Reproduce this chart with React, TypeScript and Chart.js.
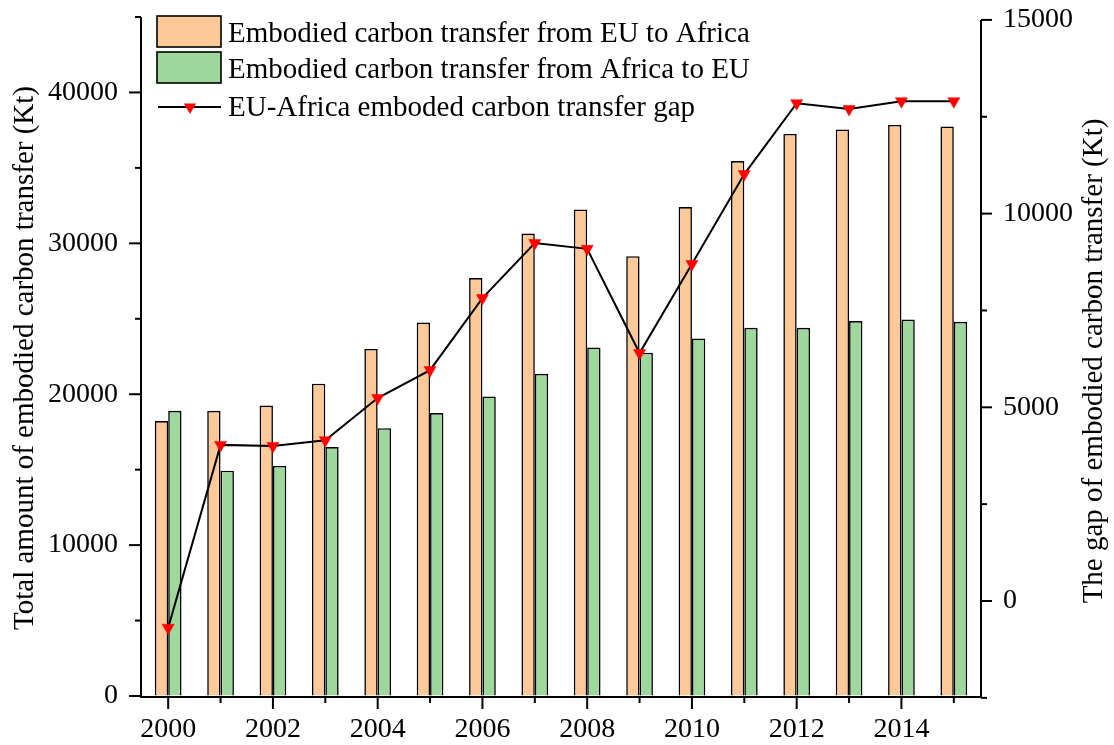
import React, { useEffect, useRef } from "react";
import { Chart, registerables } from "chart.js";

Chart.register(...registerables);

const years = ["2000", "2001", "2002", "2003", "2004", "2005", "2006", "2007", "2008", "2009", "2010", "2011", "2012", "2013", "2014", "2015"];
const euToAfrica = [18220, 18900, 19250, 20700, 23000, 24750, 27700, 30650, 32250, 29150, 32400, 35450, 37250, 37550, 37850, 37750];
const africaToEu = [18900, 14930, 15250, 16500, 17750, 18750, 19850, 21350, 23100, 22750, 23700, 24400, 24400, 24850, 24950, 24800];
const gap = [-690, 4030, 4000, 4150, 5240, 5960, 7820, 9240, 9090, 6400, 8700, 11020, 12850, 12700, 12900, 12900];

const leftMajor = [0, 10000, 20000, 30000, 40000];
const leftMinor = [5000, 15000, 25000, 35000, 45000];
const rightMajor = [0, 5000, 10000, 15000];
const rightMinor = [-2500, 2500, 7500, 12500];

const seriesNames = [
  "Embodied carbon transfer from EU to Africa",
  "Embodied carbon transfer from Africa to EU",
  "EU-Africa emboded carbon transfer gap",
];
const leftTitle = "Total amount of embodied carbon transfer (Kt)";
const rightTitle = "The gap of embodied carbon transfer (Kt)";

const ORANGE = "#FDC998";
const GREEN = "#9ED89D";
const FONT = "'Liberation Serif', 'Times New Roman', serif";
const FS = 28;
const FT = 29;

const decorPlugin = {
  id: "decor",
  afterDraw(chart: any) {
    const ctx = chart.ctx;
    const { left, right, bottom } = chart.chartArea;
    const y = chart.scales.y;
    const y1 = chart.scales.y1;
    const x = chart.scales.x;
    ctx.save();
    ctx.strokeStyle = "#000";
    ctx.lineWidth = 2;
    ctx.lineCap = "butt";
    const seg = (x1: number, yA: number, x2: number, yB: number) => {
      ctx.beginPath();
      ctx.moveTo(x1, yA);
      ctx.lineTo(x2, yB);
      ctx.stroke();
    };
    // axis lines
    const lx = left - 1;
    const rx = right + 1;
    const by = bottom + 1;
    seg(lx, y.getPixelForValue(45000), lx, by + 1);
    seg(rx, y1.getPixelForValue(15000), rx, by + 1);
    seg(lx - 1, by, rx + 1, by);
    // left ticks
    leftMajor.forEach((v) => { const p = y.getPixelForValue(v); seg(lx - 12, p, lx, p); });
    leftMinor.forEach((v) => { const p = y.getPixelForValue(v); seg(lx - 6, p, lx, p); });
    // right ticks
    rightMajor.forEach((v) => { const p = y1.getPixelForValue(v); seg(rx, p, rx + 11, p); });
    rightMinor.forEach((v) => { const p = y1.getPixelForValue(v); seg(rx, p, rx + 6, p); });
    // bottom ticks
    years.forEach((_, i) => {
      const p = x.getPixelForValue(i);
      seg(p, by, p, by + (i % 2 === 0 ? 12 : 6));
    });

    // titles
    ctx.fillStyle = "#000";
    ctx.font = `${FT}px ${FONT}`;
    ctx.textAlign = "center";
    ctx.textBaseline = "middle";
    ctx.save();
    ctx.translate(25, 358);
    ctx.rotate(-Math.PI / 2);
    ctx.fillText(leftTitle, 0, 0);
    ctx.restore();
    ctx.save();
    ctx.translate(1094, 361);
    ctx.rotate(-Math.PI / 2);
    ctx.fillText(rightTitle, 0, 0);
    ctx.restore();

    // legend
    const bx = 157, bw = 64, bh = 31;
    ctx.lineWidth = 1.6;
    ctx.fillStyle = ORANGE;
    ctx.fillRect(bx, 16, bw, bh);
    ctx.strokeRect(bx, 16, bw, bh);
    ctx.fillStyle = GREEN;
    ctx.fillRect(bx, 52, bw, bh);
    ctx.strokeRect(bx, 52, bw, bh);
    ctx.lineWidth = 2;
    seg(bx + 1, 107, bx + bw, 107);
    ctx.fillStyle = "#FF0000";
    const cx = bx + 33, cy = 107, r = 7;
    ctx.beginPath();
    ctx.moveTo(cx, cy + r);
    ctx.lineTo(cx - r * 0.866, cy - r / 2);
    ctx.lineTo(cx + r * 0.866, cy - r / 2);
    ctx.closePath();
    ctx.fill();
    ctx.fillStyle = "#000";
    ctx.font = `${FT}px ${FONT}`;
    ctx.textAlign = "left";
    ctx.textBaseline = "middle";
    ctx.fillText(seriesNames[0], 228, 34);
    ctx.fillText(seriesNames[1], 228, 70);
    ctx.fillText(seriesNames[2], 228, 108);
    ctx.restore();
  },
};

const plain = (v: any) => String(v);

export default function App() {
  const ref = useRef<HTMLCanvasElement>(null);
  useEffect(() => {
    if (!ref.current) return;
    const chart = new Chart(ref.current, {
      type: "bar",
      data: {
        labels: years,
        datasets: [
          {
            type: "line",
            label: seriesNames[2],
            data: gap,
            yAxisID: "y1",
            borderColor: "#000",
            borderWidth: 2,
            pointStyle: "triangle",
            rotation: 180,
            pointRadius: 7,
            pointBackgroundColor: "#FF0000",
            pointBorderColor: "#FF0000",
            pointBorderWidth: 0.5,
            order: 0,
            clip: false,
          } as any,
          {
            label: seriesNames[0],
            data: euToAfrica,
            yAxisID: "y",
            backgroundColor: ORANGE,
            borderColor: "#000",
            borderWidth: 1.6,
            categoryPercentage: 0.51,
            barPercentage: 1,
            order: 1,
          },
          {
            label: seriesNames[1],
            data: africaToEu,
            yAxisID: "y",
            backgroundColor: GREEN,
            borderColor: "#000",
            borderWidth: 1.6,
            categoryPercentage: 0.51,
            barPercentage: 1,
            order: 1,
          },
        ],
      },
      options: {
        responsive: false,
        devicePixelRatio: 1,
        animation: false,
        layout: { padding: { top: 17, left: 0, right: 0, bottom: 0 } },
        plugins: { legend: { display: false }, tooltip: { enabled: false } },
        scales: {
          x: {
            type: "category",
            offset: true,
            grid: { display: true, drawOnChartArea: false, color: "transparent", tickLength: 12 },
            border: { display: false },
            ticks: {
              autoSkip: false,
              maxRotation: 0,
              padding: 5,
              color: "#000",
              font: { family: FONT, size: FS },
              callback: (_v: any, i: number) => (i % 2 === 0 ? years[i] : ""),
            },
            afterFit: (s: any) => { s.height = 49; s.paddingLeft = 0; s.paddingRight = 0; },
          },
          y: {
            type: "linear",
            position: "left",
            min: 0,
            max: 45000,
            grid: { display: true, drawOnChartArea: false, color: "transparent", tickLength: 12 },
            border: { display: false },
            ticks: { padding: 12, color: "#000", font: { family: FONT, size: FS }, callback: plain },
            afterBuildTicks: (s: any) => { s.ticks = leftMajor.map((v) => ({ value: v })); },
            afterFit: (s: any) => { s.width = 142; s.paddingTop = 0; s.paddingBottom = 0; },
          },
          y1: {
            type: "linear",
            position: "right",
            min: -2452,
            max: 15075,
            grid: { display: true, drawOnChartArea: false, color: "transparent", tickLength: 11 },
            border: { display: false },
            ticks: { padding: 12, color: "#000", font: { family: FONT, size: FS }, callback: plain },
            afterBuildTicks: (s: any) => { s.ticks = rightMajor.map((v) => ({ value: v })); },
            afterFit: (s: any) => { s.width = 134; s.paddingTop = 0; s.paddingBottom = 0; },
          },
        },
      },
      plugins: [decorPlugin],
    });
    return () => chart.destroy();
  }, []);
  return (
    <div style={{ position: "absolute", left: 0, top: 0, width: 1114, height: 745, background: "#fff" }}>
      <canvas ref={ref} width={1114} height={745} style={{ display: "block" }} />
    </div>
  );
}
